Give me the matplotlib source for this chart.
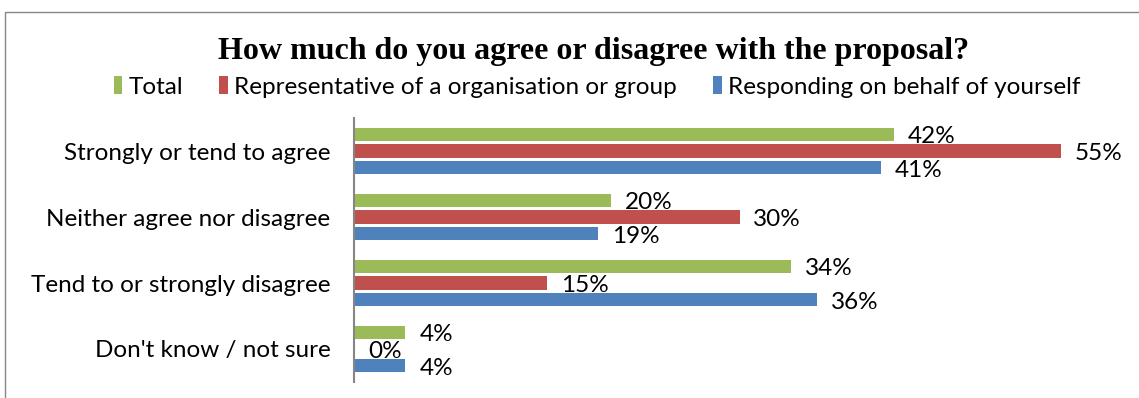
import numpy as np
import matplotlib.pyplot as plt
from matplotlib.patches import Rectangle

# Data
categories = ["Strongly or tend to agree", "Neither agree nor disagree",
              "Tend to or strongly disagree", "Don't know / not sure"]
series_names = ["Total", "Representative of a organisation or group",
                "Responding on behalf of yourself"]
total = [42, 20, 34, 4]
representative = [55, 30, 15, 0]
yourself = [41, 19, 36, 4]

colors = ["#9BBB59", "#C0504D", "#4F81BD"]
label_font = "Lato"
fs = 17.5

fig = plt.figure(figsize=(11.39, 3.98), dpi=100)
ax = fig.add_axes([354 / 1139, 1 - 382 / 398, (1125 - 354) / 1139, (382 - 118) / 398])

# outer chart frame (continues past right/bottom edges)
fig.patches.append(Rectangle((5 / 1139, -0.1), 1.2, 1 - 12 / 398 + 0.1,
                             transform=fig.transFigure, fill=False,
                             edgecolor="#868686", linewidth=1.0, clip_on=False))

y = np.arange(len(categories))
bar_h = 0.2
step = 0.255
for i, (vals, name) in enumerate(zip([total, representative, yourself], series_names)):
    pos = y + (i - 1) * step
    ax.barh(pos, vals, height=bar_h, color=colors[i], label=name)
    for p, v in zip(pos, vals):
        ax.annotate(f"{v}%", (v, p), xytext=(10, -2), textcoords="offset points",
                    ha="left", va="center", fontsize=fs, family=label_font)

ax.set_xlim(0, 60)
ax.set_ylim(len(categories) - 0.5, -0.5)
ax.set_yticks(y)
ax.set_yticklabels(categories, fontsize=fs, family=label_font)
ax.tick_params(axis="y", length=0, pad=17)
ax.set_xticks([])
for s in ["top", "right", "bottom"]:
    ax.spines[s].set_visible(False)
ax.spines["left"].set_color("#868686")
ax.spines["left"].set_linewidth(1.5)

fig.text(0.521, 1 - 51 / 398, "How much do you agree or disagree with the proposal?",
         ha="center", va="center", fontsize=23, fontweight="bold",
         family="Liberation Serif")

fig.legend(loc="center", bbox_to_anchor=(0.524, 1 - 87 / 398), ncol=3, frameon=False,
           prop={"family": label_font, "size": fs}, handlelength=0.35, handleheight=0.75,
           handletextpad=0.25, columnspacing=1.5, borderaxespad=0)

fig.savefig("out.png", dpi=100)
